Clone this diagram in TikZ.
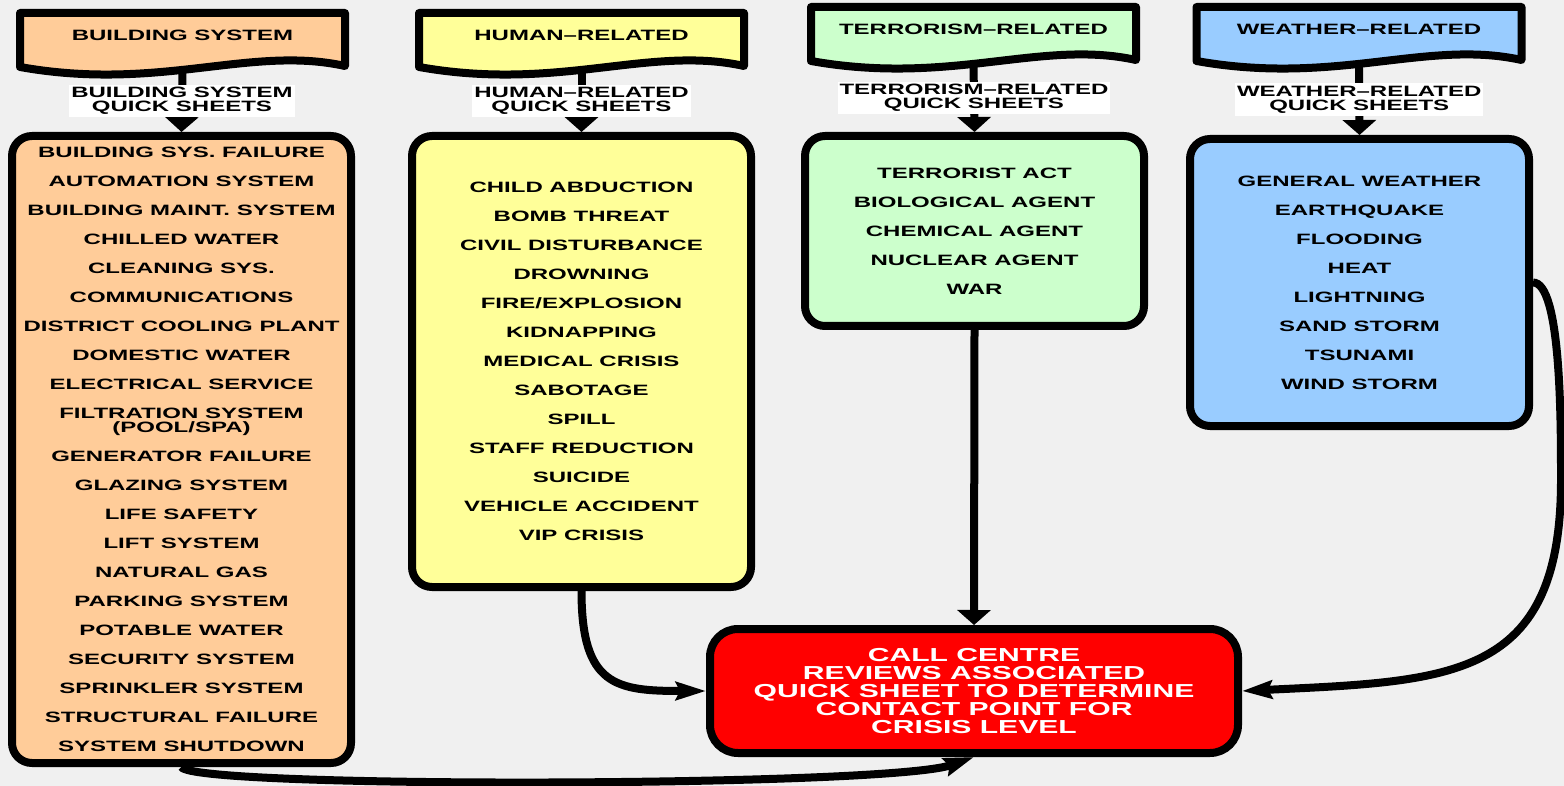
\documentclass[tikz,border=0pt]{standalone}
\usepackage{fontspec}
\setmainfont{Liberation Sans}[FakeStretch=1.6]
\usetikzlibrary{arrows.meta,calc}

\definecolor{pagebg}{HTML}{F0F0F0}
\definecolor{bldfill}{HTML}{FFCC99}
\definecolor{humfill}{HTML}{FFFF99}
\definecolor{terfill}{HTML}{CCFFCC}
\definecolor{wthfill}{HTML}{99CCFF}
\definecolor{callred}{HTML}{FF0000}

\tikzset{
  headline/.style={line width=4pt, line join=round},
  headtext/.style={font=\bfseries\fontsize{7.5}{7}\selectfont},
  listbox/.style={draw, line width=4pt, rounded corners=10pt, align=center,
    minimum width=169.5pt, font=\bfseries\fontsize{7.5}{14.5}\selectfont},
  qlabel/.style={fill=white, inner xsep=1pt, inner ysep=1.3pt, align=center,
    font=\bfseries\fontsize{7.5}{7}\selectfont},
  callbox/.style={draw, fill=callred, text=white, line width=4pt, rounded corners=14pt,
    align=center, minimum width=264pt, minimum height=62pt,
    font=\bfseries\fontsize{9.4}{9}\selectfont},
  feed/.style={line width=4pt, -{Triangle[length=7.5pt, width=16.5pt]}},
  route/.style={line width=4pt, -{Stealth[length=15pt, width=9pt, inset=2pt]}}
}

% header with a wavy bottom: name, centre x, top y, fill, title
\newcommand{\headdoc}[5]{%
  \draw[headline, fill=#4] (#2-162.5,#3) -- (#2+162.5,#3) -- (#2+162.5,#3+53)
    .. controls (#2+67.5,#3+32) and (#2-22.5,#3+79) .. (#2-162.5,#3+54) -- cycle;
  \node[headtext] (#1) at (#2,#3+22) {#5};
  \coordinate (#1-foot) at (#2,#3+57);
}

\begin{document}
\begin{tikzpicture}[x=0.5pt, y=-0.5pt]
\useasboundingbox (0,0) rectangle (1564,786);
\clip (0,0) rectangle (1564,786);
\fill[pagebg] (0,0) rectangle (1564,786);

% headers
\headdoc{bhead}{182.5}{13}{bldfill}{BUILDING SYSTEM}
\headdoc{hhead}{581.5}{13}{humfill}{HUMAN--RELATED}
\headdoc{thead}{973.5}{7}{terfill}{TERRORISM--RELATED}
\headdoc{whead}{1359}{7}{wthfill}{WEATHER--RELATED}

% lists
\node[listbox, fill=bldfill, minimum height=313.5pt] (blist) at (181.5,449.5) {%
  BUILDING SYS. FAILURE\\ AUTOMATION SYSTEM\\ BUILDING MAINT. SYSTEM\\
  CHILLED WATER\\ CLEANING SYS.\\ COMMUNICATIONS\\ DISTRICT COOLING PLANT\\
  DOMESTIC WATER\\ ELECTRICAL SERVICE\\ FILTRATION SYSTEM\\[-7.5pt] (POOL/SPA)\\
  GENERATOR FAILURE\\ GLAZING SYSTEM\\ LIFE SAFETY\\ LIFT SYSTEM\\ NATURAL GAS\\
  PARKING SYSTEM\\ POTABLE WATER\\ SECURITY SYSTEM\\ SPRINKLER SYSTEM\\
  STRUCTURAL FAILURE\\ SYSTEM SHUTDOWN};
\node[listbox, fill=humfill, minimum height=225.5pt] (hlist) at (581.5,361.5) {%
  CHILD ABDUCTION\\ BOMB THREAT\\ CIVIL DISTURBANCE\\ DROWNING\\ FIRE/EXPLOSION\\
  KIDNAPPING\\ MEDICAL CRISIS\\ SABOTAGE\\ SPILL\\ STAFF REDUCTION\\ SUICIDE\\
  VEHICLE ACCIDENT\\ VIP CRISIS};
\node[listbox, fill=terfill, minimum height=95pt] (tlist) at (974.5,231) {%
  TERRORIST ACT\\ BIOLOGICAL AGENT\\ CHEMICAL AGENT\\ NUCLEAR AGENT\\ WAR};
\node[listbox, fill=wthfill, minimum height=143.5pt] (wlist) at (1359.5,282.5) {%
  GENERAL WEATHER\\ EARTHQUAKE\\ FLOODING\\ HEAT\\ LIGHTNING\\ SAND STORM\\
  TSUNAMI\\ WIND STORM};

\node[callbox] (call) at (974,691) {CALL CENTRE\\ REVIEWS ASSOCIATED\\
  QUICK SHEET TO DETERMINE\\ CONTACT POINT FOR\\ CRISIS LEVEL};

% quick sheet arrows
\draw[feed] (bhead-foot) -- node[qlabel] (blab) {BUILDING SYSTEM\\ QUICK SHEETS} (blist.north);
\draw[feed] (hhead-foot) -- node[qlabel] (hlab) {HUMAN--RELATED\\ QUICK SHEETS} (hlist.north);
\draw[feed] (thead-foot) -- node[qlabel] (tlab) {TERRORISM--RELATED\\ QUICK SHEETS} (tlist.north);
\draw[feed] (whead-foot) -- node[qlabel] (wlab) {WEATHER--RELATED\\ QUICK SHEETS} (wlist.north);

% into the call centre
\coordinate (wdrop) at (1561,480);
\draw[feed] (tlist.south) -- (call.north);
\draw[route] (hlist.south) .. controls +(0,95) and +(-90,0) .. (call.west);
\draw[route] (wlist.east) .. controls +(28,0) and +(0,-60) .. (wdrop)
  .. controls +(0,200) and +(210,-10) .. (call.east);
\draw[route] (blist.south) .. controls +(10,22) and +(-85,30) .. (call.south);
\end{tikzpicture}
\end{document}
